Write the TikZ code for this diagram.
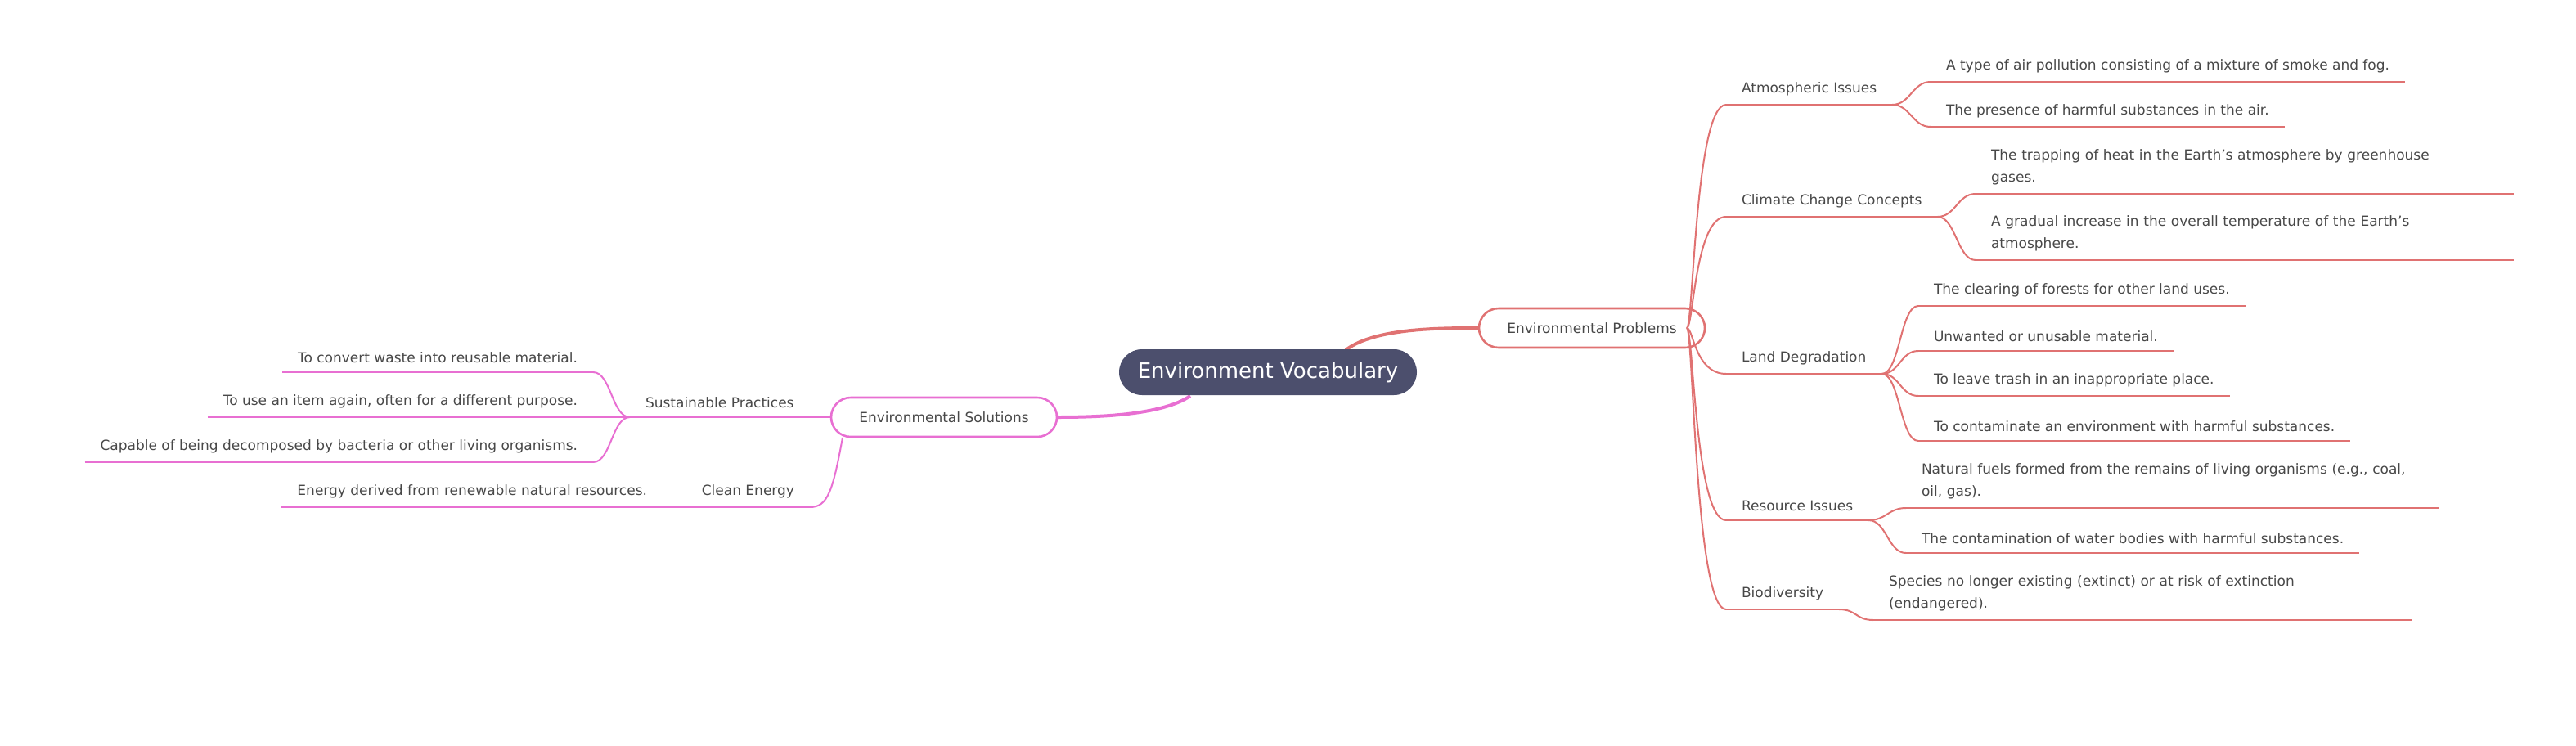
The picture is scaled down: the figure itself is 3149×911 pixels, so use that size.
\documentclass[tikz,border=0pt]{standalone}
\usepackage{fontspec}
\setmainfont{DejaVu Sans}
\definecolor{probred}{HTML}{E07272}
\definecolor{solpink}{HTML}{E86FD2}
\definecolor{rootblue}{HTML}{4C4F6D}
\definecolor{inktext}{HTML}{484848}
\tikzset{
  leaf/.style={inner xsep=9pt, inner ysep=5pt, font=\fontsize{8.5}{13.5}\selectfont, text=inktext, align=left},
  cat/.style={leaf},
  mainbox/.style={draw, line width=1.3pt, rounded corners=12pt, minimum width=138pt, minimum height=24pt, fill=white, font=\fontsize{8.5}{10}\selectfont, text=inktext},
}
\begin{document}
\begin{tikzpicture}[x=0.5pt, y=-0.5pt]

\useasboundingbox (0,0) rectangle (3149,911);

% main links
\draw [probred, line width=2pt] (1645,428) .. controls (1680,401) and (1760,401) .. (1808,401);
\draw [solpink, line width=2pt] (1455,484) .. controls (1420,508) and (1340,510) .. (1292,510);

\node [fill=rootblue, rounded corners=14pt, minimum width=182pt, minimum height=28pt, text=white, font=\fontsize{13}{15}\selectfont] (root) at (1550,455) {Environment Vocabulary};
\node [mainbox, draw=probred] (prob) at (1946,401) {Environmental Problems};
\node [mainbox, draw=solpink] (sol) at (1154,510) {Environmental Solutions};

% problems side
\begin{scope}[probred, line width=1pt]
\node [cat, anchor=south west] (atmo) at (2110,128) {Atmospheric Issues};
\node [cat, anchor=south west] (clim) at (2110,265) {Climate Change Concepts};
\node [cat, anchor=south west] (land) at (2110,457) {Land Degradation};
\node [cat, anchor=south west] (reso) at (2110,636) {Resource Issues};
\node [cat, anchor=south west] (bio) at (2110,745) {Biodiversity};
\foreach \c in {atmo,clim,land,reso,bio} {
  \draw (\c.south west) -- (\c.south east);
  \draw (2062,401) .. controls (2070,401) and (2072,0 |- \c.south west) .. (\c.south west);
}

\node [leaf, anchor=south west] (smog) at (2360,100) {A type of air pollution consisting of a mixture of smoke and fog.};
\node [leaf, anchor=south west] (airpol) at (2360,155) {The presence of harmful substances in the air.};
\node [leaf, anchor=south west, text width=310pt] (green) at (2415,237) {The trapping of heat in the Earth's atmosphere by greenhouse\\gases.};
\node [leaf, anchor=south west, text width=310pt] (warm) at (2415,318) {A gradual increase in the overall temperature of the Earth's\\atmosphere.};
\node [leaf, anchor=south west] (defor) at (2345,374) {The clearing of forests for other land uses.};
\node [leaf, anchor=south west] (waste) at (2345,429) {Unwanted or unusable material.};
\node [leaf, anchor=south west] (litter) at (2345,484) {To leave trash in an inappropriate place.};
\node [leaf, anchor=south west] (pollute) at (2345,539) {To contaminate an environment with harmful substances.};
\node [leaf, anchor=south west, text width=307pt] (fossil) at (2330,621) {Natural fuels formed from the remains of living organisms (e.g., coal,\\oil, gas).};
\node [leaf, anchor=south west] (water) at (2330,676) {The contamination of water bodies with harmful substances.};
\node [leaf, anchor=south west, text width=310pt] (endang) at (2290,758) {Species no longer existing (extinct) or at risk of extinction\\(endangered).};

\foreach \p/\c in {atmo/smog, atmo/airpol, clim/green, clim/warm, land/defor, land/waste, land/litter, land/pollute, reso/fossil, reso/water, bio/endang} {
  \draw (\c.south west) -- (\c.south east);
  \draw (\p.south east) .. controls +(22,0) and +(-22,0) .. (\c.south west);
}
\end{scope}

% solutions side
\begin{scope}[solpink, line width=1pt]
\node [cat, anchor=south west] (sust) at (770,510) {Sustainable Practices};
\node [cat, anchor=south east] (clean) at (990,620) {Clean Energy};
\draw (sust.south west) -- (sol.west);
\draw (1030,535) .. controls (1018,600) and (1012,620) .. (clean.south east);

\node [leaf, anchor=south east] (recyc) at (725,455) {To convert waste into reusable material.};
\node [leaf, anchor=south east] (reuse) at (725,510) {To use an item again, often for a different purpose.};
\node [leaf, anchor=south east] (biodeg) at (725,565) {Capable of being decomposed by bacteria or other living organisms.};
\node [leaf, anchor=south east] (renew) at (810,620) {Energy derived from renewable natural resources.};
\foreach \c in {recyc,reuse,biodeg} {
  \draw (\c.south west) -- (\c.south east);
  \draw (sust.south west) .. controls +(-22,0) and +(22,0) .. (\c.south east);
}
\draw (renew.south west) -- (clean.south east);
\end{scope}

\end{tikzpicture}
\end{document}
